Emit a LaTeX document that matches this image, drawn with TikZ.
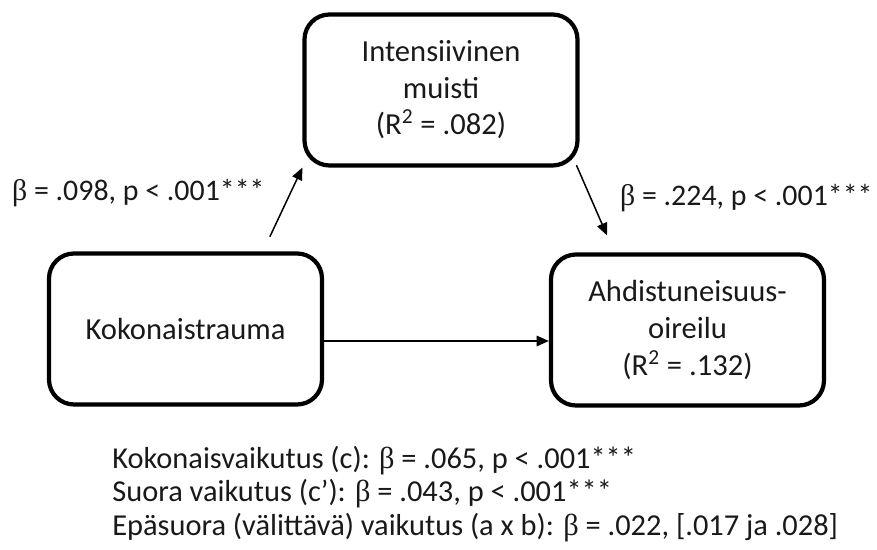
\documentclass[tikz,border=0pt]{standalone}
\usepackage{fontspec}
\setmainfont{Carlito}
\newfontfamily\grk{Liberation Serif}
\usetikzlibrary{arrows.meta}
\newcommand{\bet}{{\grk β}}
\newcommand{\rsq}{R\textsuperscript{2}}

\begin{document}
\begin{tikzpicture}[line cap=round,line join=round,>={Triangle[length=7pt,width=6pt]},
  every node/.style={inner sep=1pt,text=black!90},
  varbox/.style={draw,line width=2.4pt,rounded corners=0.5cm,minimum width=5.46cm,minimum height=3.02cm,
    align=center,font=\fontsize{17.4}{20.8}\selectfont},
  coef/.style={anchor=west,font=\fontsize{17}{20}\selectfont}]
  \useasboundingbox (0,0) rectangle (17.54,11);
  \node[varbox] (mui) at (8.82,9.20) {Intensiivinen\\muisti\\(\rsq{} = .082)};
  \node[varbox] (kok) at (3.71,4.42) {Kokonaistrauma};
  \node[varbox] (ahd) at (13.75,4.40) {Ahdistuneisuus-\\oireilu\\(\rsq{} = .132)};
  \coordinate (a0) at ([xshift=1.69cm,yshift=0.30cm]kok.north);
  \coordinate (b1) at ([xshift=-1.61cm,yshift=0.34cm]ahd.north);
  \coordinate (c0) at ([yshift=-0.24cm]kok.east);
  \draw[->,line width=0.85pt] (a0) -- (mui.south west);
  \draw[->,line width=0.85pt] ([xshift=-0.06cm,yshift=0.04cm]mui.south east) -- (b1);
  \draw[->,line width=0.85pt] (c0) -- (c0 -| ahd.west);
  \node[coef] (ca) at (0.20,7.14) {\bet{} = .098, p < .001***};
  \node[coef] (cb) at (12.36,7.04) {\bet{} = .224, p < .001***};
  \node[anchor=west,align=left,inner sep=0pt,font=\fontsize{17.3}{19.1}\selectfont] (eff) at (2.24,1.12)
    {Kokonaisvaikutus (c): \bet{} = .065, p < .001***\\
     Suora vaikutus (c’): \bet{} = .043, p < .001***\\
     Epäsuora (välittävä) vaikutus (a x b): \bet{} = .022, [.017 ja .028]};
\end{tikzpicture}
\end{document}
